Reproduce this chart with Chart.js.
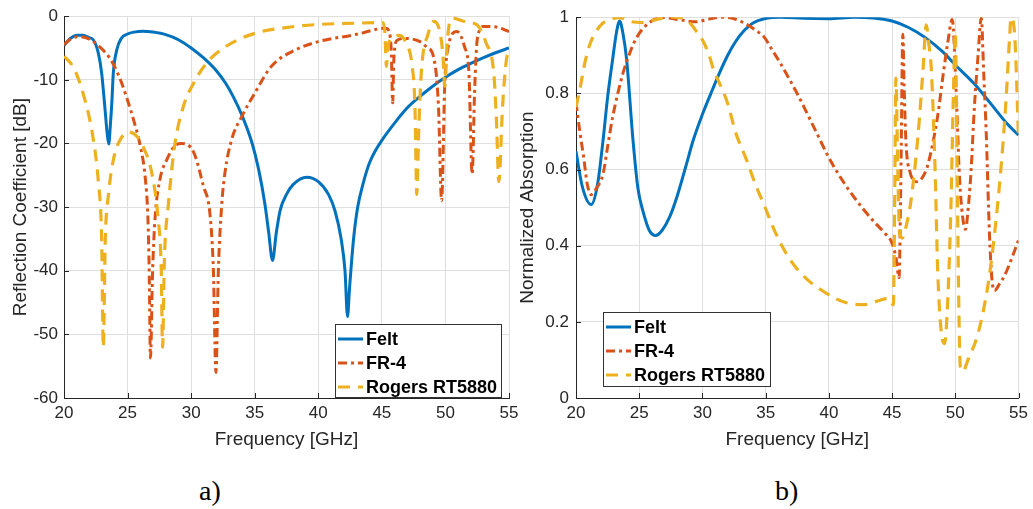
<!DOCTYPE html>
<html><head><meta charset="utf-8">
<script src="https://cdn.jsdelivr.net/npm/chart.js@4.4.1/dist/chart.umd.min.js"></script>
<style>
html,body{margin:0;padding:0;background:#fff;width:1033px;height:509px;overflow:hidden;position:relative;}
canvas{position:absolute;top:0;}
#cA{left:0;}
#cB{left:510px;}
.cap{position:absolute;font-family:"Liberation Serif","Times New Roman",serif;font-size:28px;line-height:28px;color:#000;white-space:nowrap;}
</style></head><body>
<canvas id="cA" width="526" height="460"></canvas>
<canvas id="cB" width="523" height="460"></canvas>
<div class="cap" style="left:199px;top:477px;">a)</div>
<div class="cap" style="left:775px;top:477px;">b)</div>
<script>
// ---------- data ----------
const seriesNames = ['Felt', 'FR-4', 'Rogers RT5880'];
const freqTicks = [20, 25, 30, 35, 40, 45, 50, 55];
const s11Ticks = [-60, -50, -40, -30, -20, -10, 0];
const absTicks = [0, 0.2, 0.4, 0.6, 0.8, 1];
const absTickLabels = ['0', '0.2', '0.4', '0.6', '0.8', '1'];

// a) Reflection coefficient [dB]
const s11FeltFreq = [20,20.5,21,21.5,22,22.3,22.7,22.96,23.2,23.4,23.52,23.65,23.75,23.88,24.15,24.5,25,25.5,26.2,27,28,29,30,31,32,32.7,33.3,34,34.8,35.3,35.8,36.1,36.4,36.7,37,37.5,38,39.1,40,40.8,41.3,41.8,42.1,42.3,42.45,42.6,42.8,43.1,43.5,44,44.5,45,46,47,48,49,50,51,52,53,54,55];
const s11Felt     = [-4.6,-3.5,-3.0,-3.0,-3.4,-3.7,-5.8,-8.9,-14,-18.5,-20.1,-17,-14,-8.9,-5.3,-3.5,-2.8,-2.5,-2.35,-2.5,-2.9,-3.7,-5.0,-6.6,-8.6,-10.5,-12.6,-15.6,-20,-24,-29.5,-34,-38.4,-34,-30.5,-28,-26.5,-25.3,-26.0,-28,-30.5,-35,-40,-47.2,-43,-39,-34.5,-30,-26.5,-23.2,-21.1,-19.5,-16.8,-14.4,-12.6,-11.0,-9.6,-8.4,-7.4,-6.5,-5.7,-5.0];

const s11Fr4Freq = [20,20.5,21.2,22,22.8,23.6,24.3,24.9,25.5,26,26.4,26.6,26.7,26.8,26.97,27.16,27.55,28.1,28.7,29.25,30.2,30.95,31.5,31.75,31.95,32.14,32.4,32.66,33.2,34,35,36.3,38.2,40,42.9,45.3,45.55,45.75,45.85,45.95,46.2,46.8,48,48.6,49.05,49.45,49.7,49.95,50.2,50.9,51.5,51.85,52.1,52.3,52.5,53,54,55];
const s11Fr4     = [-4.5,-3.6,-3.2,-3.6,-4.8,-6.6,-9.3,-12.6,-16.5,-20.4,-25.6,-31.8,-40,-53.7,-40,-31.8,-25.6,-22.5,-20.4,-20.0,-21.4,-26.6,-31.5,-40,-56,-40,-29.8,-24.6,-19.3,-15.7,-12.1,-7.9,-5.3,-4.0,-2.9,-1.9,-2.3,-6,-13.6,-6.5,-3.8,-3.5,-4.0,-5,-6.3,-14,-29,-10.5,-5,-2.4,-4.8,-9,-24.8,-11.5,-3.7,-1.6,-1.7,-2.4];

const s11RogFreq = [20,20.7,21.5,22.3,22.7,22.96,23.09,23.25,23.5,23.9,24.4,25.1,25.7,26.2,26.9,27.4,27.65,27.75,27.9,28.2,28.7,29.4,30.2,31.2,32.7,35,37.6,40,42.9,45.1,45.25,45.35,45.5,46,46.4,46.9,47.35,47.6,47.75,47.9,48.1,48.65,49.1,49.5,49.8,49.95,50.15,50.35,50.6,51,51.6,52.5,53.2,53.8,54,54.2,54.5,54.8,55];
const s11Rog     = [-6.3,-7.9,-12.1,-19.3,-26,-35,-52,-35,-28,-22.4,-19.5,-18.2,-18.8,-20.4,-24.6,-31.8,-40,-52,-38,-29.8,-20.4,-14.1,-10.5,-7.4,-4.8,-2.7,-1.75,-1.3,-1.1,-1.0,-3,-7.9,-4.5,-3.2,-3.0,-4.2,-7.4,-14,-28,-18,-8.9,-2.7,-0.8,-2,-6,-11,-4,-0.8,-0.3,-0.5,-0.9,-1.4,-4.2,-8.9,-15.7,-26,-14,-6.8,-5.8];

// b) Normalized absorption
const absFeltFreq = [20,20.5,21.2,21.7,22.15,22.5,22.9,23.2,23.45,23.7,24,24.5,24.9,25.3,25.8,26.3,26.8,27.4,28,28.7,29.3,30,30.67,31.3,32,32.6,33.3,34,34.9,36.2,38,40,42,43.5,45,46.3,47.6,48.9,50.2,51.5,52.8,54.1,55];
const absFelt     = [0.647,0.555,0.508,0.56,0.68,0.79,0.89,0.96,0.99,0.96,0.89,0.68,0.55,0.49,0.44,0.427,0.44,0.475,0.53,0.61,0.68,0.745,0.80,0.85,0.90,0.935,0.965,0.985,0.996,1.0,0.997,0.996,1.0,0.998,0.99,0.973,0.947,0.912,0.868,0.825,0.773,0.72,0.69];

const absFr4Freq = [20,20.3,20.6,20.9,21.2,21.6,22.15,22.5,22.9,23.7,24.3,24.8,25.8,26.9,28.2,29.5,30.5,31.5,32.3,33.5,34.2,34.9,35.5,36.2,37.5,38.8,40.1,41.4,42.7,43.65,44.5,44.95,45.3,45.55,45.7,45.85,45.95,46.1,46.4,47.0,47.5,47.85,48.6,49.0,49.4,49.75,50.1,50.3,50.5,50.8,51.05,51.25,51.5,51.8,52.05,52.25,52.45,52.7,52.9,53.1,53.5,53.9,54.5,55];
const absFr4     = [0.777,0.70,0.634,0.56,0.534,0.55,0.59,0.66,0.738,0.851,0.91,0.947,0.986,0.999,0.993,0.988,0.995,1.0,0.998,0.981,0.966,0.947,0.915,0.877,0.799,0.712,0.625,0.555,0.497,0.46,0.43,0.41,0.37,0.316,0.6,0.955,0.82,0.67,0.595,0.568,0.585,0.615,0.74,0.84,0.933,0.994,0.777,0.6,0.5,0.443,0.51,0.6,0.76,0.90,0.998,0.85,0.69,0.43,0.31,0.282,0.30,0.322,0.37,0.415];

const absRogFreq = [20,20.3,20.7,21.1,21.9,22.7,23.45,24.4,25.3,26.1,27.4,28.4,29,29.5,30,30.5,30.9,31.3,32,32.6,33.55,34.2,34.9,35.5,36.2,37,37.75,38.5,39.3,40.3,41.4,42.7,44,44.7,45.1,45.2,45.3,45.45,45.6,45.8,46.1,46.5,47.05,47.45,47.7,47.9,48.1,48.4,48.6,48.9,49.15,49.4,49.65,49.85,50,50.1,50.25,50.4,50.6,51,51.8,52.6,53.1,53.6,54,54.3,54.4,54.7,55];
const absRog     = [0.764,0.81,0.88,0.929,0.977,0.994,0.999,0.988,0.986,0.992,1.0,0.998,0.985,0.964,0.94,0.903,0.86,0.83,0.773,0.70,0.62,0.56,0.505,0.455,0.405,0.36,0.329,0.305,0.286,0.265,0.25,0.245,0.256,0.262,0.245,0.5,0.84,0.6,0.43,0.42,0.45,0.52,0.69,0.864,0.98,0.93,0.864,0.6,0.34,0.17,0.143,0.256,0.5,0.8,0.96,0.75,0.3,0.08,0.07,0.1,0.17,0.3,0.43,0.6,0.777,0.951,0.999,0.95,0.68];

// ---------- styling ----------
const FONT = "'Liberation Sans', Arial, Helvetica, sans-serif";
const AXIS = '#262626';
const GRID = '#dfdfdf';
const colors = ['#0072BD', '#D95319', '#EDB120'];
const dashes = [[], [9, 4, 3, 4], [12, 8]];
const widths = [3, 3, 3.2];

function pts(xs, ys) { return xs.map((x, i) => ({ x: x, y: ys[i] })); }

function makeDatasets(sets) {
  return sets.map((s, i) => ({
    label: seriesNames[i],
    data: pts(s[0], s[1]),
    borderColor: colors[i],
    backgroundColor: colors[i],
    borderWidth: widths[i],
    borderDash: dashes[i],
    borderCapStyle: 'butt',
    pointRadius: 0,
    fill: false,
    cubicInterpolationMode: 'monotone',
    order: 3 - i
  }));
}

const inTicks = {
  id: 'inTicks',
  afterDatasetsDraw(chart) {
    const { ctx, chartArea: ca, scales: { x, y } } = chart;
    ctx.save();
    ctx.strokeStyle = AXIS; ctx.lineWidth = 1; ctx.beginPath();
    x.ticks.forEach(t => { const p = Math.round(x.getPixelForValue(t.value)) + 0.5; ctx.moveTo(p, ca.bottom); ctx.lineTo(p, ca.bottom - 5); });
    y.ticks.forEach(t => { const p = Math.round(y.getPixelForValue(t.value)) + 0.5; ctx.moveTo(ca.left, p); ctx.lineTo(ca.left + 5, p); });
    ctx.stroke();
    ctx.restore();
  }
};

const boxLegend = {
  id: 'boxLegend',
  afterDraw(chart, args, o) {
    const ctx = chart.ctx, ca = chart.chartArea;
    const x0 = o.anchor === 'right' ? ca.right - o.dx - o.w : ca.left + o.dx;
    const y0 = ca.bottom - o.dy - o.h;
    ctx.save();
    ctx.fillStyle = '#fff';
    ctx.fillRect(x0, y0, o.w, o.h);
    ctx.strokeStyle = '#333'; ctx.lineWidth = 1;
    ctx.strokeRect(Math.round(x0) + 0.5, Math.round(y0) + 0.5, o.w - 1, o.h - 1);
    chart.data.datasets.forEach((ds, i) => {
      const y = y0 + 15 + i * 24;
      ctx.strokeStyle = ds.borderColor; ctx.lineWidth = ds.borderWidth;
      ctx.setLineDash(ds.borderDash || []); ctx.lineCap = 'butt';
      ctx.beginPath(); ctx.moveTo(x0 + 3, y); ctx.lineTo(x0 + 28, y); ctx.stroke();
      ctx.setLineDash([]);
      ctx.fillStyle = '#000';
      ctx.font = 'bold 18px ' + FONT;
      ctx.textBaseline = 'middle'; ctx.textAlign = 'left';
      ctx.fillText(ds.label, x0 + 31, y + 1);
    });
    ctx.restore();
  }
};

function makeChart(id, sets, yCfg, layoutPad, yWidth, legendOpts) {
  return new Chart(document.getElementById(id), {
    type: 'line',
    data: { datasets: makeDatasets(sets) },
    plugins: [inTicks, boxLegend],
    options: {
      responsive: false,
      animation: false,
      layout: { padding: layoutPad },
      plugins: { legend: { display: false }, tooltip: { enabled: false }, boxLegend: legendOpts },
      scales: {
        x: {
          type: 'linear', min: 20, max: 55,
          afterBuildTicks: s => { s.ticks = freqTicks.map(v => ({ value: v })); },
          afterFit: s => { s.height = 62; },
          grid: { color: GRID, lineWidth: 1, drawTicks: false },
          border: { color: AXIS, width: 1 },
          ticks: { color: AXIS, font: { family: FONT, size: 17 }, padding: 5, maxRotation: 0, autoSkip: false },
          title: { display: true, text: 'Frequency [GHz]', color: AXIS, font: { family: FONT, size: 19 }, padding: { top: 0, bottom: 8.6 } }
        },
        y: {
          type: 'linear', min: yCfg.min, max: yCfg.max,
          afterBuildTicks: s => { s.ticks = yCfg.ticks.map(v => ({ value: v })); },
          afterFit: s => { s.width = yWidth; },
          grid: { color: GRID, lineWidth: 1, drawTicks: false },
          border: { color: AXIS, width: 1 },
          ticks: { color: AXIS, font: { family: FONT, size: 17 }, padding: yCfg.tickPad, autoSkip: false, callback: yCfg.label },
          title: { display: true, text: yCfg.title, color: AXIS, font: { family: FONT, size: 19 }, padding: { top: yCfg.titlePad, bottom: 0 } }
        }
      }
    }
  });
}

makeChart('cA',
  [[s11FeltFreq, s11Felt], [s11Fr4Freq, s11Fr4], [s11RogFreq, s11Rog]],
  { min: -60, max: 0, ticks: s11Ticks, label: v => String(v), title: 'Reflection Coefficient [dB]', titlePad: 9.6, tickPad: 6 },
  { top: 14.5, right: 17, left: 0, bottom: 0 }, 64,
  { anchor: 'right', dx: 7, dy: 0, w: 167, h: 74 });

makeChart('cB',
  [[absFeltFreq, absFelt], [absFr4Freq, absFr4], [absRogFreq, absRog]],
  { min: 0, max: 1, ticks: absTicks, label: v => absTickLabels[absTicks.indexOf(v)], title: 'Normalized Absorption', titlePad: 6.6, tickPad: 7 },
  { top: 14.5, right: 12, left: 0, bottom: 0 }, 66,
  { anchor: 'left', dx: 27, dy: 11, w: 168, h: 75 });
</script>
</body></html>
